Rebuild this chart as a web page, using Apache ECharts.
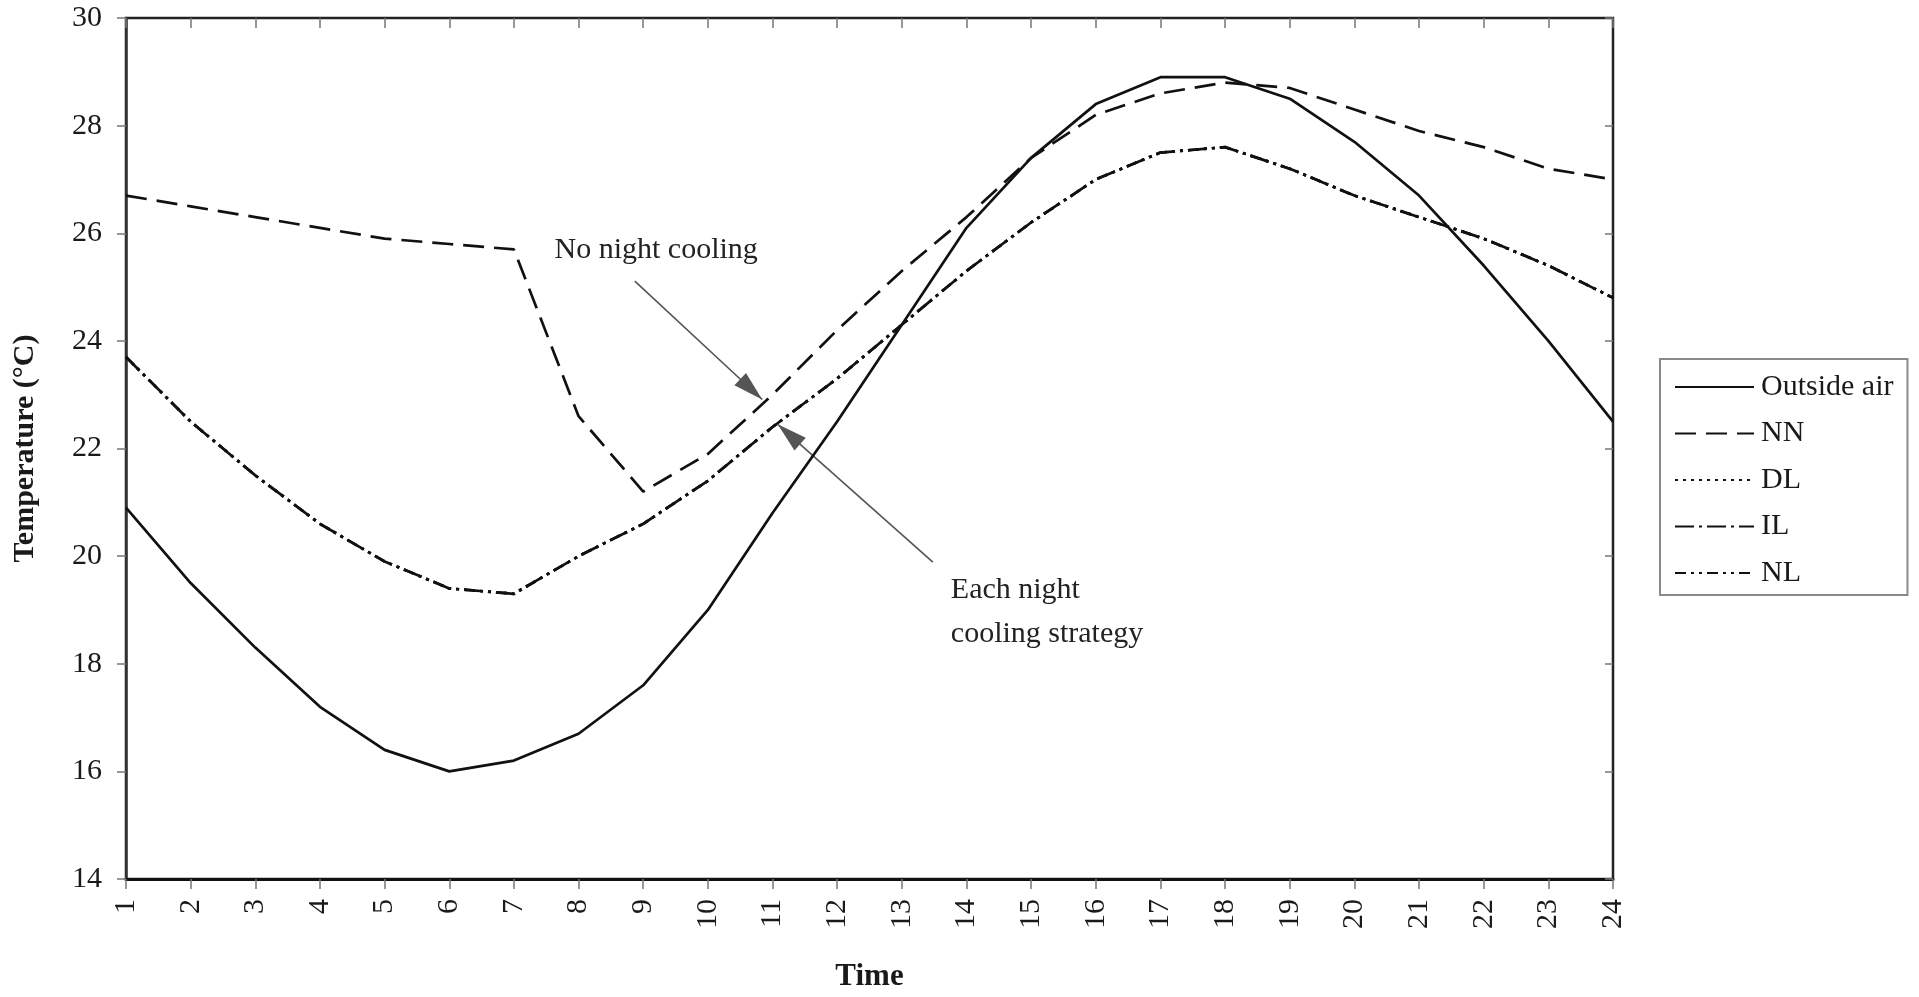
<!DOCTYPE html>
<html>
<head>
<meta charset="utf-8">
<title>Temperature over the day</title>
<script src="https://cdn.jsdelivr.net/npm/echarts@6/dist/echarts.min.js"></script>
<style>
  html, body { margin: 0; padding: 0; background: #ffffff; }
  #chart { width: 1919px; height: 997px; }
</style>
</head>
<body>
<div id="chart"></div>
<script>
// Hours of the day (x axis)
const hours = [1, 2, 3, 4, 5, 6, 7, 8, 9, 10, 11, 12, 13, 14, 15, 16, 17, 18, 19, 20, 21, 22, 23, 24];

// Temperatures in °C
const outsideAir = [20.9, 19.5, 18.3, 17.2, 16.4, 16.0, 16.2, 16.7, 17.6, 19.0, 20.8, 22.5,
                    24.3, 26.1, 27.4, 28.4, 28.9, 28.9, 28.5, 27.7, 26.7, 25.4, 24.0, 22.5];
const nn = [26.7, 26.5, 26.3, 26.1, 25.9, 25.8, 25.7, 22.6, 21.2, 21.9, 23.0, 24.2,
            25.3, 26.3, 27.4, 28.2, 28.6, 28.8, 28.7, 28.3, 27.9, 27.6, 27.2, 27.0];
const dl = [23.7, 22.5, 21.5, 20.6, 19.9, 19.4, 19.3, 20.0, 20.6, 21.4, 22.4, 23.3,
            24.3, 25.3, 26.2, 27.0, 27.5, 27.6, 27.2, 26.7, 26.3, 25.9, 25.4, 24.8];
const il = [23.7, 22.5, 21.5, 20.6, 19.9, 19.4, 19.3, 20.0, 20.6, 21.4, 22.4, 23.3,
            24.3, 25.3, 26.2, 27.0, 27.5, 27.6, 27.2, 26.7, 26.3, 25.9, 25.4, 24.8];
const nl = [23.7, 22.5, 21.5, 20.6, 19.9, 19.4, 19.3, 20.0, 20.6, 21.4, 22.4, 23.3,
            24.3, 25.3, 26.2, 27.0, 27.5, 27.6, 27.2, 26.7, 26.3, 25.9, 25.4, 24.8];

// Axis ranges
const yMin = 14, yMax = 30, yStep = 2;
const xMin = 1, xMax = 24, xStep = 1;

// Callouts, in data coordinates [hour, °C]
const noCoolingText = [7.62, 25.68];
const noCoolingArrow = [[8.87, 25.11], [10.84, 22.91]];
const eachCoolingText = [13.75, 18.96];
const eachCoolingArrow = [[13.48, 19.89], [11.08, 22.45]];

const FONT = "'Liberation Serif', 'Times New Roman', Times, serif";
const INK = '#1a1a1a';

function pairs(vals) { return hours.map((h, i) => [h, vals[i]]); }

// One arrow: plain start, filled triangular head whose tip sits on the end point
const HEAD_W = 17, HEAD_L = 30;
function arrow(seg) {
  return [
    { coord: seg[0], symbol: 'none' },
    { coord: seg[1], symbol: 'triangle', symbolSize: [HEAD_W, HEAD_L], symbolOffset: [0, HEAD_L / 2] }
  ];
}

const chart = echarts.init(document.getElementById('chart'), null, { renderer: 'canvas' });

const baseX = {
  type: 'value', min: xMin, max: xMax, interval: xStep,
  splitLine: { show: false }
};
const baseY = {
  type: 'value', min: yMin, max: yMax, interval: yStep,
  splitLine: { show: false }
};

const lineCommon = {
  type: 'line', showSymbol: false, symbol: 'none', silent: true,
  animation: false, xAxisIndex: 0, yAxisIndex: 0
};

const option = {
  backgroundColor: '#ffffff',
  animation: false,
  textStyle: { fontFamily: FONT, color: INK },
  grid: {
    left: 126, right: 306, top: 18, bottom: 112,
    show: true, borderColor: '#222', borderWidth: 2.5, backgroundColor: 'transparent'
  },
  legend: {
    orient: 'vertical',
    left: 1660, top: 359,
    padding: [13, 14, 7, 14],
    itemGap: 16.5,
    itemWidth: 79, itemHeight: 14,
    borderColor: '#8a8a8a', borderWidth: 2,
    backgroundColor: '#ffffff',
    selectedMode: false,
    itemStyle: { color: 'rgba(0,0,0,0)', borderWidth: 0, opacity: 0 },
    textStyle: { fontFamily: FONT, fontSize: 30, color: INK, lineHeight: 30, padding: [0, 0, 0, 2] },
    data: ['Outside air', 'NN', 'DL', 'IL', 'NL']
  },
  xAxis: [
    Object.assign({}, baseX, {
      name: 'Time', nameLocation: 'middle', nameGap: 82,
      nameTextStyle: { fontFamily: FONT, fontSize: 31, fontWeight: 'bold', color: INK },
      axisLine: { show: true, lineStyle: { color: '#111', width: 3 } },
      axisTick: { show: true, length: 10, lineStyle: { color: '#777', width: 1.5 } },
      axisLabel: { show: true, rotate: 90, margin: 20, fontFamily: FONT, fontSize: 30, color: INK }
    }),
    Object.assign({}, baseX, {
      axisLine: { show: false },
      axisTick: { show: true, inside: true, length: 10, lineStyle: { color: '#777', width: 1.5 } },
      axisLabel: { show: false }
    })
  ],
  yAxis: [
    Object.assign({}, baseY, {
      name: 'Temperature (°C)', nameLocation: 'middle', nameGap: 86, nameRotate: 90,
      nameTextStyle: { fontFamily: FONT, fontSize: 30, fontWeight: 'bold', color: INK },
      axisLine: { show: true, lineStyle: { color: '#333', width: 2.5 } },
      axisTick: { show: true, length: 9, lineStyle: { color: '#777', width: 1.5 } },
      axisLabel: { show: true, margin: 24, fontFamily: FONT, fontSize: 30, color: INK }
    }),
    Object.assign({}, baseY, {
      axisLine: { show: false },
      axisTick: { show: true, inside: true, length: 8, lineStyle: { color: '#777', width: 1.5 } },
      axisLabel: { show: false }
    })
  ],
  series: [
    Object.assign({}, lineCommon, {
      name: 'Outside air', data: pairs(outsideAir), z: 5,
      itemStyle: { color: '#111' },
      lineStyle: { color: '#111', width: 2.7, type: 'solid' },
      markLine: {
        silent: true, animation: false,
        label: { show: false },
        lineStyle: { color: '#555', width: 1.6, type: 'solid' },
        data: [arrow(noCoolingArrow), arrow(eachCoolingArrow)]
      },
      markPoint: {
        silent: true, animation: false,
        symbol: 'circle', symbolSize: 1,
        itemStyle: { color: 'rgba(0,0,0,0)' },
        label: {
          show: true, position: 'right', distance: 0,
          fontFamily: FONT, fontSize: 30, color: '#222', lineHeight: 44, align: 'left'
        },
        data: [
          { coord: noCoolingText, value: 0, label: { formatter: 'No night cooling' } },
          { coord: eachCoolingText, value: 0, label: { formatter: 'Each night\ncooling strategy' } }
        ]
      }
    }),
    Object.assign({}, lineCommon, {
      name: 'NN', data: pairs(nn), z: 4,
      itemStyle: { color: '#111' },
      lineStyle: { color: '#111', width: 2.7, type: [21, 10] }
    }),
    Object.assign({}, lineCommon, {
      name: 'DL', data: pairs(dl), z: 3,
      itemStyle: { color: '#111' },
      lineStyle: { color: '#111', width: 2.7, type: [3, 5] }
    }),
    Object.assign({}, lineCommon, {
      name: 'IL', data: pairs(il), z: 3,
      itemStyle: { color: '#111' },
      lineStyle: { color: '#111', width: 2.7, type: [19, 5, 3, 5] }
    }),
    Object.assign({}, lineCommon, {
      name: 'NL', data: pairs(nl), z: 3,
      itemStyle: { color: '#111' },
      lineStyle: { color: '#111', width: 2.7, type: [11, 5, 3, 5, 3, 5] }
    })
  ]
};

chart.setOption(option);
</script>
</body>
</html>
